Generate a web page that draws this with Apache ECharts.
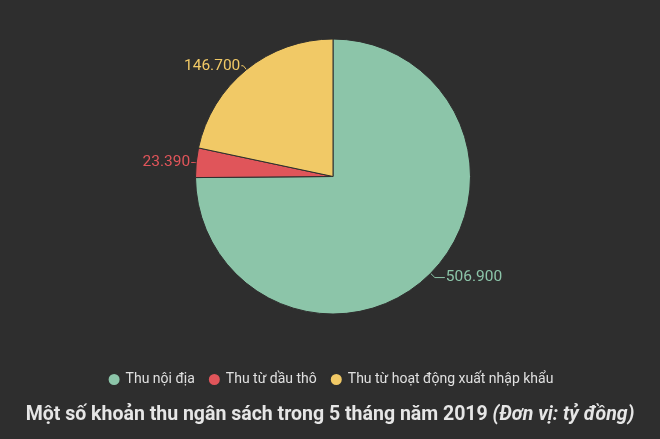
<!DOCTYPE html>
<html>
<head>
<meta charset="utf-8">
<script src="https://cdn.jsdelivr.net/npm/echarts@6/dist/echarts.min.js"></script>
<style>
  html, body { margin: 0; padding: 0; background: #2e2e2e; }
  #chart { width: 660px; height: 439px; }
</style>
</head>
<body>
<div id="chart"></div>
<script>
// số liệu
const categories = ['Thu nội địa', 'Thu từ dầu thô', 'Thu từ hoạt động xuất nhập khẩu'];
const values = [506.9, 23.39, 146.7];
const colors = ['#8cc5a9', '#e0555a', '#f1c966'];

function fmt(v) {
  return v.toFixed(3);
}

// độ dài đường dẫn nhãn cho từng lát
function lineFor(i) {
  if (i === 0) return { length: 6, length2: 10 };
  if (i === 1) return { length: 2, length2: 3 };
  return { length: 5, length2: 2 };
}

let myChart = echarts.init(document.getElementById('chart'));

let option = {
  backgroundColor: '#2e2e2e',
  color: colors,
  title: {
    text: '{a|Một số khoản thu ngân sách trong 5 tháng năm 2019 }{b|(Đơn vị: tỷ đồng)}',
    left: 'center',
    top: 400,
    textStyle: {
      rich: {
        a: { fontFamily: 'Roboto', fontSize: 19.5, fontWeight: 'bold', color: '#e6e6e6' },
        b: { fontFamily: 'Roboto', fontSize: 19.5, fontWeight: 'bold', fontStyle: 'italic', color: '#e6e6e6' }
      }
    }
  },
  legend: {
    top: 367,
    left: 'center',
    icon: 'circle',
    itemWidth: 13,
    itemHeight: 13,
    itemGap: 12,
    textStyle: { fontFamily: 'Roboto', fontSize: 14, color: '#e0e0e0' },
    data: categories
  },
  series: [{
    type: 'pie',
    center: [333, 176.5],
    radius: 137.5,
    startAngle: 90,
    clockwise: true,
    avoidLabelOverlap: false,
    itemStyle: { borderColor: '#2e2e2e', borderWidth: 1 },
    label: {
      show: true,
      fontFamily: 'Roboto',
      fontSize: 15.5,
      distanceToLabelLine: 1,
      formatter: (p) => fmt(p.value)
    },
    labelLine: {
      show: true,
      lineStyle: { width: 1 }
    },
    emphasis: { scale: false },
    data: categories.map((c, i) => ({
      name: c,
      value: values[i],
      label: { color: colors[i] },
      labelLine: lineFor(i)
    }))
  }]
};

myChart.setOption(option);
</script>
</body>
</html>
